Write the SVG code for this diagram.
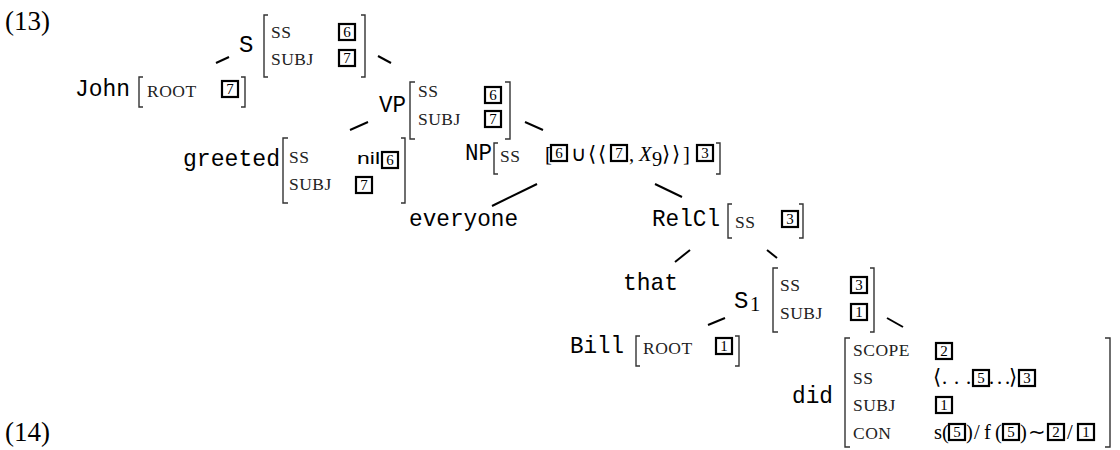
<svg xmlns="http://www.w3.org/2000/svg" width="1120" height="450" viewBox="0 0 1120 450">
<style>
.tt{font-family:"Liberation Mono","DejaVu Sans Mono",monospace;font-size:24px;fill:#000}
.sc{font-family:"Liberation Serif",serif;font-size:17.5px;letter-spacing:0.5px;fill:#222}
.rm{font-family:"Liberation Serif",serif;font-size:20.5px;fill:#000}
.num{font-family:"Liberation Serif",serif;font-size:27px;fill:#000}
.bx{fill:none;stroke:#000;stroke-width:2.2}
.bd{font-family:"Liberation Serif",serif;font-size:15px;fill:#000;text-anchor:middle}
.br{fill:none;stroke:#333;stroke-width:1.4}
.ln{stroke:#000;stroke-width:2;fill:none}
.sf{font-family:"Liberation Sans",sans-serif;font-size:17px;fill:#000}
</style>
<defs>
<rect id="box" class="bx" x="0" y="0" width="16" height="16"/>
</defs>
<text class="num" x="5" y="30">(13)</text>
<text class="num" x="5" y="441">(14)</text>

<g id="connectors">
<line class="ln" x1="229" y1="57" x2="216" y2="63"/>
<line class="ln" x1="378" y1="56" x2="391" y2="63"/>
<line class="ln" x1="368" y1="122" x2="350" y2="130"/>
<line class="ln" x1="525" y1="122" x2="543" y2="130"/>
<line class="ln" x1="537" y1="184" x2="492" y2="206"/>
<line class="ln" x1="655" y1="184" x2="682" y2="197"/>
<line class="ln" x1="690" y1="250" x2="675" y2="262"/>
<line class="ln" x1="767" y1="250" x2="777" y2="258"/>
<line class="ln" x1="725" y1="318" x2="708" y2="325"/>
<line class="ln" x1="887" y1="318" x2="903" y2="327"/>
</g>

<g id="node-S">
<text class="tt" x="239" y="52">S</text>
<path class="br" d="M268,15 H264 V77 H268"/>
<text class="sc" x="271" y="38">SS</text>
<text class="sc" x="271" y="65">SUBJ</text>
<use href="#box" x="339" y="24"/><text class="bd" x="347" y="37">6</text>
<use href="#box" x="339" y="50"/><text class="bd" x="347" y="63">7</text>
<path class="br" d="M361,15 H365 V77 H361"/>
</g>

<g id="node-John">
<text class="tt" x="75" y="96" textLength="55" lengthAdjust="spacingAndGlyphs">John</text>
<path class="br" d="M143,77 H139 V107 H143"/>
<text class="sc" x="147" y="97">ROOT</text>
<use href="#box" x="222" y="81"/><text class="bd" x="230" y="94">7</text>
<path class="br" d="M241,77 H245 V107 H241"/>
</g>

<g id="node-VP">
<text class="tt" x="379" y="112" textLength="27" lengthAdjust="spacingAndGlyphs">VP</text>
<path class="br" d="M415,82 H410 V139 H415"/>
<text class="sc" x="418" y="97">SS</text>
<text class="sc" x="418" y="125">SUBJ</text>
<use href="#box" x="485" y="87"/><text class="bd" x="493" y="100">6</text>
<use href="#box" x="485" y="111"/><text class="bd" x="493" y="124">7</text>
<path class="br" d="M505,82 H510 V139 H505"/>
</g>

<g id="node-greeted">
<text class="tt" x="183" y="166" textLength="97" lengthAdjust="spacingAndGlyphs">greeted</text>
<path class="br" d="M288,138 H283 V203 H288"/>
<text class="sc" x="289" y="163">SS</text>
<text class="sc" x="289" y="190">SUBJ</text>
<text class="sf" x="357" y="164" textLength="23" lengthAdjust="spacingAndGlyphs">nil</text>
<use href="#box" x="382" y="152"/><text class="bd" x="390" y="165">6</text>
<use href="#box" x="356" y="177"/><text class="bd" x="364" y="190">7</text>
<path class="br" d="M401,138 H405 V203 H401"/>
</g>

<g id="node-NP">
<text class="tt" x="465" y="160" textLength="27" lengthAdjust="spacingAndGlyphs">NP</text>
<path class="br" d="M498,143 H494 V174 H498"/>
<text class="sc" x="500" y="162">SS</text>
<text class="rm" x="545" y="161">[</text>
<use href="#box" x="551" y="145"/><text class="bd" x="559" y="158">6</text>
<text class="rm" x="571" y="161">∪</text>
<text class="rm" x="588" y="161">⟨</text>
<text class="rm" x="598" y="161">⟨</text>
<use href="#box" x="611" y="145"/><text class="bd" x="619" y="158">7</text>
<text class="rm" x="629" y="161">,</text>
<text class="rm" x="639" y="161" font-style="italic">X</text>
<text class="rm" x="652" y="166" font-size="14">9</text>
<text class="rm" x="662" y="161">⟩</text>
<text class="rm" x="672" y="161">⟩</text>
<text class="rm" x="683" y="161">]</text>
<use href="#box" x="697" y="145"/><text class="bd" x="705" y="158">3</text>
<path class="br" d="M716,143 H720 V174 H716"/>
</g>

<g id="node-everyone">
<text class="tt" x="409" y="226" textLength="109" lengthAdjust="spacingAndGlyphs">everyone</text>
</g>

<g id="node-RelCl">
<text class="tt" x="652" y="226" textLength="68" lengthAdjust="spacingAndGlyphs">RelCl</text>
<path class="br" d="M732,204 H728 V238 H732"/>
<text class="sc" x="735" y="228">SS</text>
<use href="#box" x="782" y="211"/><text class="bd" x="790" y="224">3</text>
<path class="br" d="M799,204 H803 V238 H799"/>
</g>

<g id="node-that">
<text class="tt" x="623" y="290" textLength="55" lengthAdjust="spacingAndGlyphs">that</text>
</g>

<g id="node-S1">
<text class="tt" x="734" y="308">S</text>
<text class="rm" x="750" y="311" font-size="16">1</text>
<path class="br" d="M778,268 H773 V332 H778"/>
<text class="sc" x="780" y="291">SS</text>
<text class="sc" x="780" y="319">SUBJ</text>
<use href="#box" x="851" y="277"/><text class="bd" x="859" y="290">3</text>
<use href="#box" x="851" y="304"/><text class="bd" x="859" y="317">1</text>
<path class="br" d="M870,268 H874 V332 H870"/>
</g>

<g id="node-Bill">
<text class="tt" x="570" y="353" textLength="54" lengthAdjust="spacingAndGlyphs">Bill</text>
<path class="br" d="M640,336 H636 V366 H640"/>
<text class="sc" x="643" y="354">ROOT</text>
<use href="#box" x="716" y="338"/><text class="bd" x="724" y="351">1</text>
<path class="br" d="M735,336 H739 V366 H735"/>
</g>

<g id="node-did">
<text class="tt" x="792" y="403" textLength="41" lengthAdjust="spacingAndGlyphs">did</text>
<path class="br" d="M850,338 H845 V447 H850"/>
<text class="sc" x="853" y="356">SCOPE</text>
<text class="sc" x="853" y="384">SS</text>
<text class="sc" x="853" y="411">SUBJ</text>
<text class="sc" x="853" y="439">CON</text>
<use href="#box" x="936" y="343"/><text class="bd" x="944" y="356">2</text>
<text class="rm" x="933" y="384" textLength="38" lengthAdjust="spacing">⟨. . .</text>
<use href="#box" x="973" y="370"/><text class="bd" x="981" y="383">5</text>
<text class="rm" x="989" y="384" textLength="28" lengthAdjust="spacing">. . .⟩</text>
<use href="#box" x="1019" y="370"/><text class="bd" x="1027" y="383">3</text>
<use href="#box" x="936" y="397"/><text class="bd" x="944" y="410">1</text>
<text class="rm" x="934" y="439">s(</text>
<use href="#box" x="949" y="424"/><text class="bd" x="957" y="437">5</text>
<text class="rm" x="966" y="439">)</text>
<text class="rm" x="974" y="439">/</text>
<text class="rm" x="984" y="439">f</text>
<text class="rm" x="995" y="439">(</text>
<use href="#box" x="1003" y="424"/><text class="bd" x="1011" y="437">5</text>
<text class="rm" x="1020" y="439">)</text>
<text class="rm" x="1028" y="439">∼</text>
<use href="#box" x="1048" y="424"/><text class="bd" x="1056" y="437">2</text>
<text class="rm" x="1067" y="439">/</text>
<use href="#box" x="1078" y="424"/><text class="bd" x="1086" y="437">1</text>
<path class="br" d="M1105,338 H1110 V447 H1105"/>
</g>
</svg>
